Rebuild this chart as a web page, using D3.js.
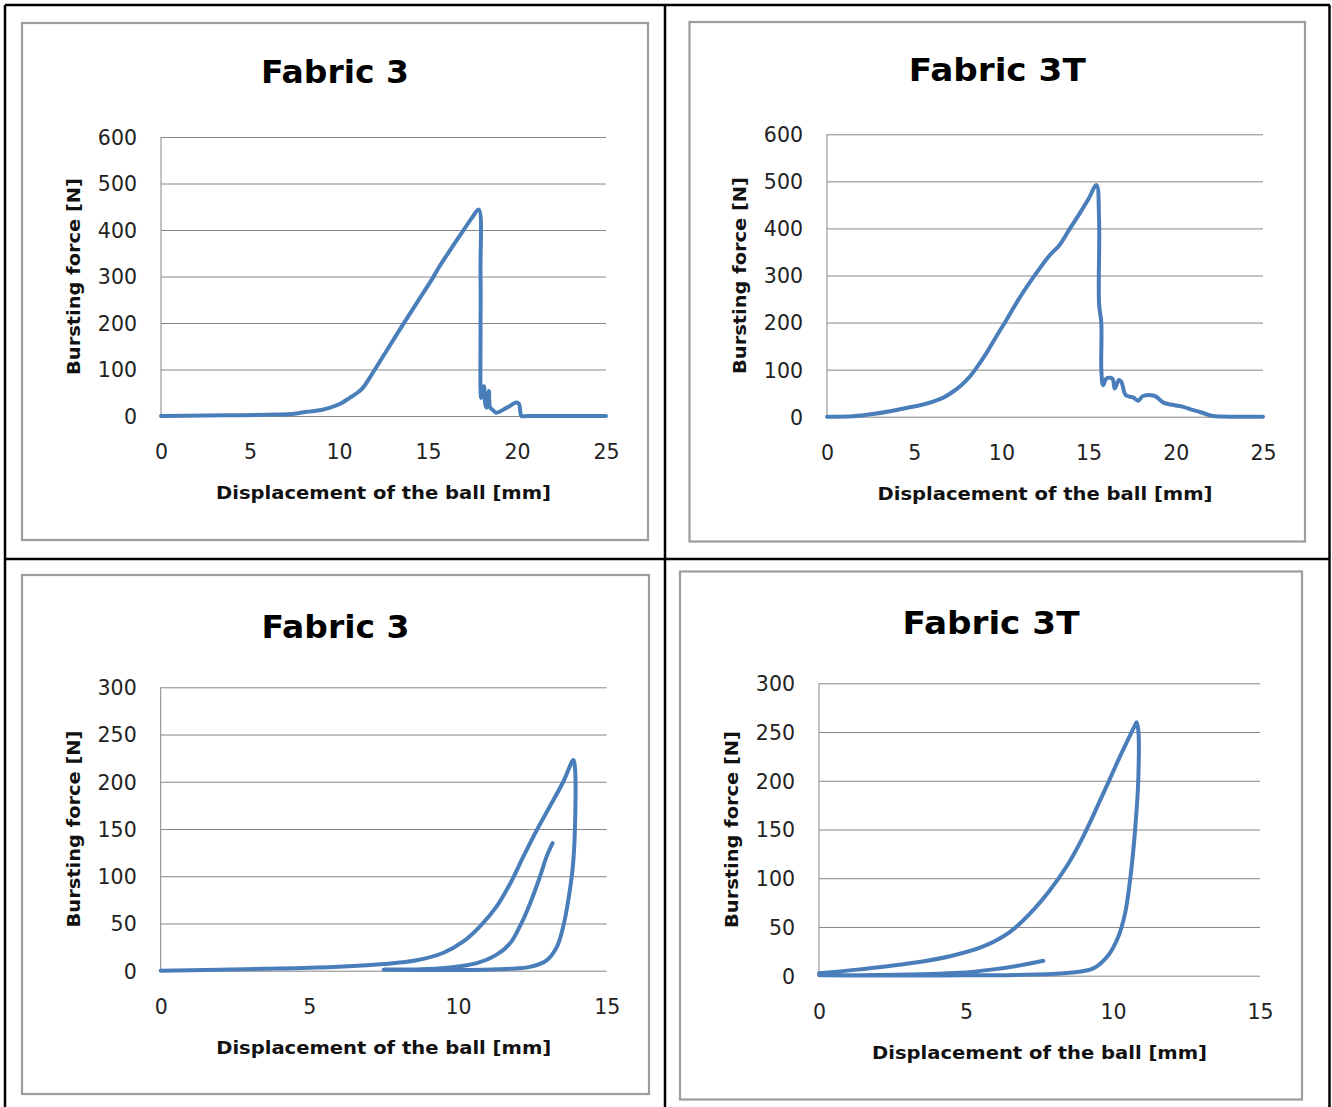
<!DOCTYPE html>
<html>
<head>
<meta charset="utf-8">
<script src="https://cdn.jsdelivr.net/npm/d3@7"></script>
<style>
  html, body { margin: 0; padding: 0; background: #fff; }
  svg { display: block; }
</style>
</head>
<body>
<svg id="chart" width="1332" height="1107"></svg>
<script>
// ---------- DATA ----------
const titles = ["Fabric 3", "Fabric 3T", "Fabric 3", "Fabric 3T"];
const xAxisTitle = "Displacement of the ball [mm]";
const yAxisTitle = "Bursting force [N]";

const xTicksBurst = [0, 5, 10, 15, 20, 25];
const yTicksBurst = [0, 100, 200, 300, 400, 500, 600];
const xTicksCyclic = [0, 5, 10, 15];
const yTicksCyclic = [0, 50, 100, 150, 200, 250, 300];

// Fabric 3 – bursting test [displacement mm, force N]
const fabric3Burst = [
  [0, 0], [2.4, 1], [6.5, 3], [7.5, 5], [8.2, 9], [9.0, 13], [9.5, 18], [10.1, 27], [10.6, 39],
  [11.0, 49], [11.35, 61], [11.9, 93], [12.7, 142], [13.6, 197], [14.4, 245], [15.27, 297],
  [15.65, 322], [16.3, 360], [16.95, 397], [17.45, 425], [17.85, 444],
  [17.95, 311], [17.95, 150], [17.95, 61], [17.99, 39], [18.14, 64], [18.22, 25], [18.29, 18],
  [18.42, 54], [18.49, 18], [18.64, 13], [18.83, 7], [19.2, 13], [19.58, 21], [19.95, 29],
  [20.1, 27], [20.2, 5], [20.25, 0], [20.6, 0], [22.0, 0], [25, 0]
];

// Fabric 3T – bursting test
const fabric3TBurst = [
  [0, 0], [1.49, 1], [2.64, 5.7], [3.7, 12], [4.74, 20], [5.4, 25], [6.08, 32], [6.7, 41],
  [7.22, 53], [7.7, 67], [8.18, 85], [8.65, 108], [9.14, 135], [9.7, 170], [10.28, 205],
  [11.1, 256], [12.0, 305], [12.77, 343], [13.34, 365], [13.9, 398], [14.49, 432], [15.0, 463],
  [15.45, 492], [15.6, 418], [15.6, 241], [15.73, 198], [15.73, 99], [15.83, 67], [16.02, 81],
  [16.36, 81], [16.5, 60], [16.74, 78], [16.88, 74], [17.13, 46], [17.55, 41], [17.84, 34],
  [18.12, 44], [18.8, 44], [19.28, 30], [19.85, 25], [20.42, 21], [20.9, 15], [21.38, 10],
  [22.14, 1.4], [22.6, 0.5], [25, 0]
];

// Fabric 3 – cyclic loading (load, unload, return, reload)
const fabric3Cyclic = [
  [0, 0], [3.45, 2], [5.81, 4], [7.49, 7], [8.61, 11], [9.51, 19], [10.18, 31], [10.74, 47],
  [11.3, 68], [11.75, 92], [12.2, 121], [12.65, 149], [13.09, 174], [13.54, 200], [13.88, 223],
  [13.93, 216], [13.93, 149], [13.86, 110], [13.71, 75], [13.54, 47], [13.32, 25], [12.98, 11],
  [12.42, 4], [11.75, 2], [10.85, 1], [9.73, 0.7], [8.6, 0.8], [7.5, 1.2],
  [8.61, 1.4], [9.73, 3.5], [10.63, 8], [11.3, 17], [11.75, 29], [12.08, 47], [12.42, 71],
  [12.76, 100], [12.98, 121], [13.18, 135]
];

// Fabric 3T – cyclic loading
const fabric3TCyclic = [
  [0, 2.4], [1.39, 6.5], [3.1, 12.7], [4.46, 20], [5.59, 30], [6.5, 45], [7.18, 64], [7.86, 88],
  [8.42, 112], [8.99, 143], [9.67, 187], [10.24, 225], [10.75, 257], [10.8, 260],
  [10.86, 252], [10.86, 201], [10.75, 149], [10.58, 98], [10.41, 64], [10.18, 40], [9.84, 21],
  [9.33, 7.5], [8.54, 3], [7.06, 1], [4.23, 0.3], [0.83, 0.3], [0, 0.5],
  [1.96, 0.7], [4.8, 3], [5.93, 6.5], [6.84, 10.6], [7.63, 15.4]
];

// ---------- LAYOUT ----------
const panels = [
  { title: titles[0], data: fabric3Burst,  xDom: [0, 25], yDom: [0, 600], xT: xTicksBurst,  yT: yTicksBurst,
    box: [22, 23, 648, 540],      px: [161, 606],   py: [416, 137],     tb: 83 },
  { title: titles[1], data: fabric3TBurst, xDom: [0, 25], yDom: [0, 600], xT: xTicksBurst,  yT: yTicksBurst,
    box: [689.5, 22, 1305, 541.5], px: [827, 1263],  py: [416.7, 134.3], tb: 81 },
  { title: titles[2], data: fabric3Cyclic, xDom: [0, 15], yDom: [0, 300], xT: xTicksCyclic, yT: yTicksCyclic,
    box: [22, 575, 649, 1094],    px: [160.7, 606.7], py: [970.7, 687.3], tb: 638 },
  { title: titles[3], data: fabric3TCyclic, xDom: [0, 15], yDom: [0, 300], xT: xTicksCyclic, yT: yTicksCyclic,
    box: [680, 571.5, 1302, 1099.5], px: [819, 1260], py: [975.7, 683.3], tb: 634 }
];

const svg = d3.select("#chart");
const GRID = "#868686";
const LINE = "#4a7ebb";

// outer table lines
const tableLines = [
  [5, 5, 1330, 5], [5, 5, 5, 1107], [665, 5, 665, 1107], [1329.5, 5, 1329.5, 1107], [5, 559, 1330, 559]
];
svg.selectAll("line.table").data(tableLines).join("line")
  .attr("class", "table")
  .attr("x1", d => d[0]).attr("y1", d => d[1]).attr("x2", d => d[2]).attr("y2", d => d[3])
  .attr("stroke", "#000").attr("stroke-width", 2.5);

panels.forEach(p => {
  const g = svg.append("g");
  const [bx0, by0, bx1, by1] = p.box;
  g.append("rect").attr("x", bx0).attr("y", by0).attr("width", bx1 - bx0).attr("height", by1 - by0)
    .attr("fill", "#fff").attr("stroke", "#9c9c9c").attr("stroke-width", 2.2);

  const x = d3.scaleLinear().domain(p.xDom).range(p.px);
  const y = d3.scaleLinear().domain(p.yDom).range(p.py);
  const w = p.px[1] - p.px[0];

  // y axis with gridlines
  const ya = g.append("g").attr("transform", `translate(${p.px[0]},0)`)
    .call(d3.axisLeft(y).tickValues(p.yT).tickSize(-w).tickSizeOuter(0).tickPadding(24).tickFormat(d3.format("d")));
  ya.select(".domain").remove();
  ya.selectAll(".tick line").attr("stroke", GRID).attr("stroke-width", 1);
  ya.selectAll(".tick text").attr("font-family", "DejaVu Sans").attr("font-size", 20.5)
    .attr("fill", "#222").attr("dy", "0.36em");

  // x axis labels
  const xa = g.append("g").attr("transform", `translate(0,${p.py[0]})`)
    .call(d3.axisBottom(x).tickValues(p.xT).tickSize(0).tickSizeOuter(0).tickFormat(d3.format("d")));
  xa.select(".domain").remove();
  xa.selectAll(".tick text").attr("font-family", "DejaVu Sans").attr("font-size", 20.5)
    .attr("fill", "#222").attr("dy", null).attr("y", 43);

  // vertical axis line
  g.append("line").attr("x1", p.px[0]).attr("x2", p.px[0]).attr("y1", p.py[0]).attr("y2", p.py[1])
    .attr("stroke", GRID).attr("stroke-width", 1);

  // curve
  g.append("path").datum(p.data)
    .attr("d", d3.line().x(d => x(d[0])).y(d => y(Math.max(0, d[1]))).curve(d3.curveCatmullRom.alpha(0.5)))
    .attr("fill", "none").attr("stroke", LINE).attr("stroke-width", 4)
    .attr("stroke-linejoin", "round").attr("stroke-linecap", "round");

  // title
  g.append("text").attr("x", (bx0 + bx1) / 2).attr("y", p.tb)
    .attr("text-anchor", "middle").attr("font-family", "DejaVu Sans").attr("font-weight", "bold")
    .attr("font-size", 32).attr("fill", "#000")
    .attr("textLength", p.title.length > 8 ? 177 : 148).attr("lengthAdjust", "spacingAndGlyphs")
    .text(p.title);

  // x axis title
  g.append("text").attr("x", (p.px[0] + p.px[1]) / 2).attr("y", p.py[0] + 83)
    .attr("text-anchor", "middle").attr("font-family", "DejaVu Sans").attr("font-weight", "bold")
    .attr("font-size", 18).attr("fill", "#111")
    .attr("textLength", 335).attr("lengthAdjust", "spacingAndGlyphs")
    .text(xAxisTitle);

  // y axis title
  const cy = (p.py[0] + p.py[1]) / 2;
  const tx = p.px[0] - 81;
  g.append("text").attr("transform", `translate(${tx},${cy}) rotate(-90)`)
    .attr("text-anchor", "middle").attr("font-family", "DejaVu Sans").attr("font-weight", "bold")
    .attr("font-size", 18).attr("fill", "#111")
    .attr("textLength", 197).attr("lengthAdjust", "spacingAndGlyphs")
    .text(yAxisTitle);
});
</script>
</body>
</html>
